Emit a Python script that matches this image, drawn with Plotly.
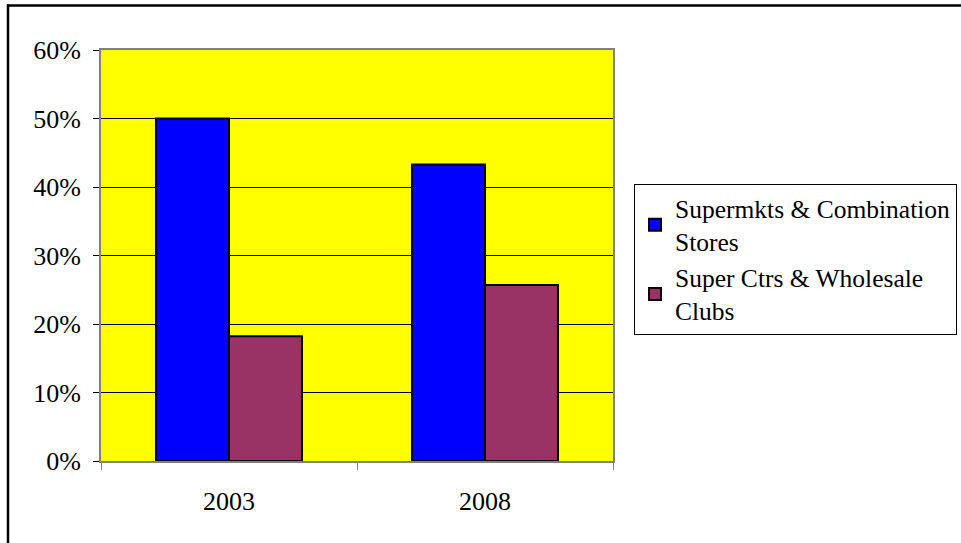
import plotly.graph_objects as go

# Share of grocery sales by store format
years = ["2003", "2008"]
supermarkets = [50.0, 43.3]
supercenters = [18.2, 25.7]
series_names = ["Supermkts & Combination<br>Stores", "Super Ctrs & Wholesale<br>Clubs"]
y_ticks = [0, 10, 20, 30, 40, 50, 60]
y_tick_labels = [f"{v}%" for v in y_ticks]

FONT = "Liberation Serif"
AXIS_SIZE = 26
LEGEND_SIZE = 25.5

# Plot area in pixels
W, H = 961, 543
L, R, T, B = 101, 613, 49.5, 461


def px_x(x):
    return (x - L) / (R - L)


def px_y(y):
    return (B - y) / (B - T)


fig = go.Figure()
fig.add_trace(go.Bar(
    x=years, y=supermarkets, name=series_names[0],
    marker=dict(color="#0000FF", line=dict(color="#000000", width=2)),
))
fig.add_trace(go.Bar(
    x=years, y=supercenters, name=series_names[1],
    marker=dict(color="#993366", line=dict(color="#000000", width=2)),
))

fig.update_layout(
    width=W, height=H,
    margin=dict(l=L, r=W - R, t=T, b=H - B, pad=0, autoexpand=False),
    paper_bgcolor="#FFFFFF",
    plot_bgcolor="#FFFF00",
    barmode="group",
    bargap=0.43,
    bargroupgap=0,
    font=dict(family=FONT, size=AXIS_SIZE, color="#000000"),
    showlegend=True,
    legend=dict(
        xref="container", yref="container",
        x=634 / W, y=1 - 184 / H, xanchor="left", yanchor="top",
        bordercolor="#000000", borderwidth=1, bgcolor="#FFFFFF",
        font=dict(family=FONT, size=LEGEND_SIZE, color="#000000"),
        tracegroupgap=0, itemwidth=30,
    ),
    xaxis=dict(
        type="category", tickson="boundaries",
        ticks="outside", ticklen=7, tickcolor="#808080", tickwidth=1,
        showline=True, linecolor="#808080", linewidth=2, mirror=True,
        showgrid=False, ticklabelstandoff=16,
        tickfont=dict(family=FONT, size=AXIS_SIZE, color="#000000"),
    ),
    yaxis=dict(
        range=[0, 60], tickvals=y_ticks, ticktext=y_tick_labels,
        ticks="outside", ticklen=6, tickcolor="#000000", tickwidth=1,
        showline=True, linecolor="#808080", linewidth=2, mirror=True,
        showgrid=True, gridcolor="#000000", gridwidth=1,
        zeroline=False, ticklabelstandoff=7,
        tickfont=dict(family=FONT, size=AXIS_SIZE, color="#000000"),
    ),
    shapes=[
        # chart frame
        dict(type="line", xref="paper", yref="paper",
             x0=px_x(7), x1=px_x(W + 5), y0=px_y(5), y1=px_y(5),
             line=dict(color="#000000", width=2.5)),
        dict(type="line", xref="paper", yref="paper",
             x0=px_x(8), x1=px_x(8), y0=px_y(4), y1=px_y(H + 5),
             line=dict(color="#000000", width=2.5)),
    ],
)

fig.write_html("out.html")
